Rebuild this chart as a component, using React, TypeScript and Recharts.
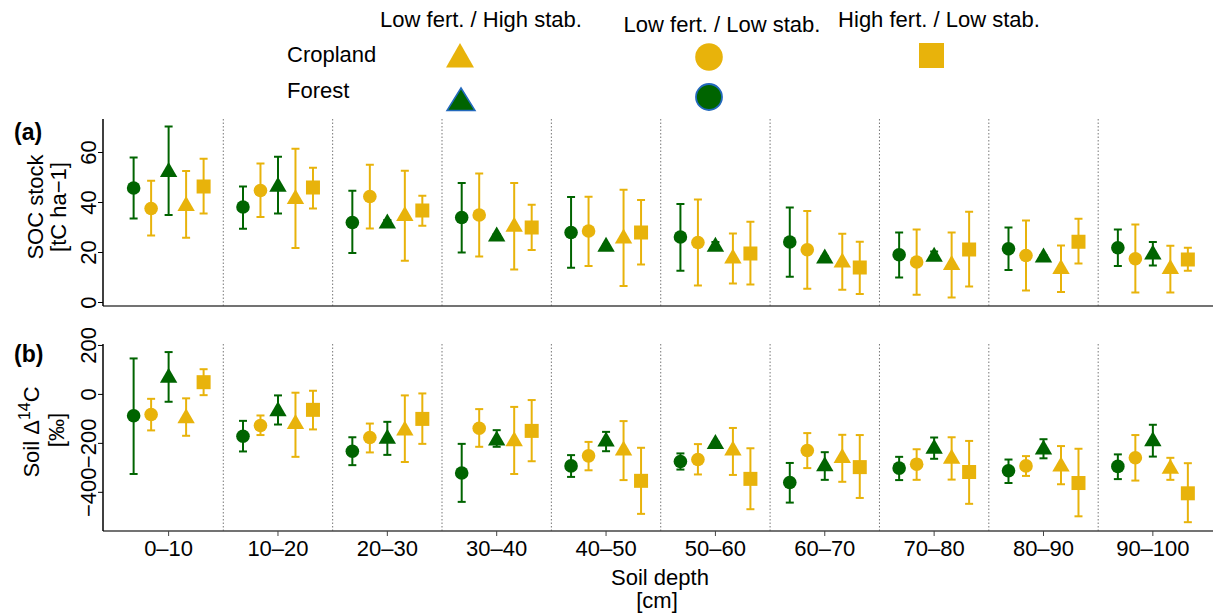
import React from 'react';
import { ScatterChart, Scatter, XAxis, YAxis, ErrorBar, ReferenceLine } from 'recharts';

const depths = ['0–10', '10–20', '20–30', '30–40', '40–50', '50–60', '60–70', '70–80', '80–90', '90–100'];

// [mean, lower, upper]  SOC stock, tC ha-1
const socForestLowLow = [[45.8, 33.6, 58], [38.2, 29.5, 46.4], [32, 19.8, 44.7], [34, 20, 47.8], [28, 13.9, 42.2], [26.2, 12.7, 39.4], [24.2, 10.3, 38], [19.1, 10, 28], [21.5, 13, 30], [21.9, 14.6, 29.2]];
const socCropLowLow = [[37.6, 26.8, 48.7], [44.8, 34.2, 55.6], [42.4, 29.6, 55.1], [35, 18.4, 51.6], [28.6, 14.6, 42.3], [24, 6.8, 41.2], [21.1, 5.5, 36.6], [16.2, 3.1, 29.2], [18.8, 4.8, 32.8], [17.5, 4, 31.2]];
const socForestLowHigh = [[53, 35, 70.4], [47.1, 35.6, 58.3], [32.4, 31.8, 33], [27.2, 27.2, 27.2], [23.1, 23.1, 23.1], [23.1, 22.2, 24.2], [18.4, 18.4, 18.4], [19.1, 17.8, 20.4], [18.8, 18.8, 18.8], [20, 14.8, 24.2]];
const socCropLowHigh = [[39.4, 25.9, 52.6], [42.2, 21.8, 61.5], [35.4, 16.7, 52.7], [31.1, 13.2, 47.8], [26.4, 6.6, 45.1], [18.4, 7.6, 27.6], [16.8, 5.1, 27.5], [15.8, 2, 28], [14.2, 4.2, 22.8], [14.2, 4, 22.7]];
const socCropHighLow = [[46.4, 35.6, 57.5], [46, 37.6, 53.9], [36.8, 30.7, 42.7], [30, 21, 39.1], [28, 15.2, 41], [19.6, 7.2, 32.3], [14, 3.4, 24.3], [21.2, 6.4, 36.3], [24.3, 15.6, 33.5], [17.2, 12.7, 21.9]];

// [mean, lower, upper]  soil Δ14C, ‰
const c14ForestLowLow = [[-87, -325, 147], [-171, -233, -108], [-232, -289, -175], [-321, -439, -202], [-292, -337, -248], [-274, -307, -241], [-360, -442, -280], [-301, -350, -255], [-312, -362, -266], [-294, -346, -245]];
const c14CropLowLow = [[-82, -147, -18], [-127, -166, -86], [-176, -237, -119], [-138, -214, -60], [-251, -310, -194], [-266, -327, -203], [-229, -301, -158], [-285, -349, -224], [-292, -333, -252], [-259, -352, -166]];
const c14ForestLowHigh = [[76, -30, 173], [-61, -123, -4], [-173, -247, -112], [-180, -214, -146], [-184, -232, -153], [-194, -194, -194], [-285, -349, -236], [-214, -263, -176], [-217, -261, -183], [-183, -254, -124]];
const c14CropLowHigh = [[-89, -169, -16], [-113, -255, 7], [-139, -276, -4], [-183, -325, -51], [-221, -350, -109], [-221, -329, -137], [-252, -357, -165], [-255, -348, -175], [-286, -367, -211], [-296, -349, -259]];
const c14CropHighLow = [[50, -3, 103], [-63, -143, 15], [-100, -202, 4], [-149, -273, -23], [-353, -488, -218], [-345, -469, -220], [-297, -423, -166], [-317, -447, -190], [-362, -498, -222], [-404, -522, -281]];

const GREEN = '#006400';
const YELLOW = '#E8B30B';
const BLUE = '#2369BD';
const FONT = '"Liberation Sans", Arial, sans-serif';

const toPoints = (vals: number[][], offset: number) =>
  vals.map((v, i) => ({ x: i + offset, y: v[0], err: [v[0] - v[1], v[2] - v[0]] }));

const Circle = (color: string) => (p: any) => <circle cx={p.cx} cy={p.cy} r={6.8} fill={color} />;
const Triangle = (color: string) => (p: any) => (
  <polygon points={`${p.cx},${p.cy - 8} ${p.cx + 8.7},${p.cy + 7} ${p.cx - 8.7},${p.cy + 7}`} fill={color} />
);
const Square = (color: string) => (p: any) => <rect x={p.cx - 7} y={p.cy - 7} width={14} height={14} fill={color} />;

const seriesDefs = (sets: number[][][]) => [
  { data: toPoints(sets[0], -0.32), color: GREEN, shape: Circle(GREEN) },
  { data: toPoints(sets[1], -0.16), color: YELLOW, shape: Circle(YELLOW) },
  { data: toPoints(sets[2], 0), color: GREEN, shape: Triangle(GREEN) },
  { data: toPoints(sets[3], 0.16), color: YELLOW, shape: Triangle(YELLOW) },
  { data: toPoints(sets[4], 0.32), color: YELLOW, shape: Square(YELLOW) },
];

const fmtNum = (v: number) => (v < 0 ? '−' + Math.abs(v) : String(v));

const RotTick = (props: any) => {
  const { x, y, payload } = props;
  return (
    <text x={x} y={y} transform={`rotate(-90 ${x} ${y})`} textAnchor="middle" fontSize={22} fontFamily={FONT} fill="#000">
      {fmtNum(payload.value)}
    </text>
  );
};

const DepthTick = (props: any) => {
  const { x, y, payload } = props;
  return (
    <text x={x} y={y} dy={18} textAnchor="middle" fontSize={22} fontFamily={FONT} fill="#000">
      {depths[payload.value]}
    </text>
  );
};

const dividers = [0.5, 1.5, 2.5, 3.5, 4.5, 5.5, 6.5, 7.5, 8.5];
const catTicks = depths.map((_, i) => i);

function Panel({ sets, domain, ticks, height, top, xHeight, showLabels }: any) {
  return (
    <ScatterChart width={1213} height={height} margin={{ top, right: 0, bottom: 0, left: 0 }}>
      <XAxis
        type="number"
        dataKey="x"
        domain={[-0.6, 9.55]}
        ticks={catTicks}
        allowDataOverflow
        height={xHeight}
        tickSize={5}
        tickMargin={2}
        axisLine={{ stroke: '#444', strokeWidth: 1.5 }}
        tickLine={{ stroke: '#444' }}
        tick={showLabels ? <DepthTick /> : false}
        interval={0}
      />
      <YAxis
        type="number"
        dataKey="y"
        domain={domain}
        ticks={ticks}
        allowDataOverflow
        width={103}
        tickSize={5}
        tickMargin={2}
        axisLine={{ stroke: '#000', strokeWidth: 1.5 }}
        tickLine={{ stroke: '#000' }}
        tick={<RotTick />}
      />
      {dividers.map((d) => (
        <ReferenceLine key={d} x={d} stroke="#777" strokeDasharray="1.5 2" />
      ))}
      {seriesDefs(sets).map((s, i) => (
        <Scatter key={i} data={s.data} shape={s.shape} isAnimationActive={false}>
          <ErrorBar dataKey="err" direction="y" width={4} strokeWidth={2} stroke={s.color} isAnimationActive={false} />
        </Scatter>
      ))}
    </ScatterChart>
  );
}

export default function App() {
  return (
    <div style={{ position: 'absolute', left: 0, top: 0, width: 1213, height: 615, background: '#fff', overflow: 'hidden' }}>
      <div style={{ position: 'absolute', left: 0, top: 0 }}>
        <Panel
          sets={[socForestLowLow, socCropLowLow, socForestLowHigh, socCropLowHigh, socCropHighLow]}
          domain={[-1.4, 73.4]}
          ticks={[0, 20, 40, 60]}
          height={320}
          top={119}
          xHeight={14}
          showLabels={false}
        />
      </div>
      <div style={{ position: 'absolute', left: 0, top: 320 }}>
        <Panel
          sets={[c14ForestLowLow, c14CropLowLow, c14ForestLowHigh, c14CropLowHigh, c14CropHighLow]}
          domain={[-558, 206]}
          ticks={[-400, -200, 0, 200]}
          height={295}
          top={24}
          xHeight={84}
          showLabels={true}
        />
      </div>
      <svg width={1213} height={615} style={{ position: 'absolute', left: 0, top: 0, pointerEvents: 'none' }} fontFamily={FONT}>
        {/* legend */}
        <text x={481} y={27} fontSize={22} textAnchor="middle">Low fert. / High stab.</text>
        <text x={722} y={31.5} fontSize={22} textAnchor="middle">Low fert. / Low stab.</text>
        <text x={939} y={27} fontSize={22} textAnchor="middle">High fert. / Low stab.</text>
        <text x={287} y={62} fontSize={22}>Cropland</text>
        <text x={287} y={98} fontSize={22}>Forest</text>
        <polygon points="460,43 474,67.5 446,67.5" fill={YELLOW} />
        <circle cx={709} cy={57} r={13.8} fill={YELLOW} />
        <rect x={919} y={43} width={25} height={25} fill={YELLOW} />
        <polygon points="461,88 475,110.5 447,110.5" fill={GREEN} stroke={BLUE} strokeWidth={1.5} />
        <circle cx={709} cy={97} r={13} fill={GREEN} stroke={BLUE} strokeWidth={1.8} />
        {/* panel labels */}
        <text x={14} y={140} fontSize={23} fontWeight="bold">(a)</text>
        <text x={14} y={362} fontSize={23} fontWeight="bold">(b)</text>
        {/* y titles */}
        <text x={43} y={207} fontSize={22} textAnchor="middle" transform="rotate(-90 43 207)">SOC stock</text>
        <text x={66} y={207} fontSize={22} textAnchor="middle" transform="rotate(-90 66 207)">[tC ha−1]</text>
        <text x={39} y={432} fontSize={22} textAnchor="middle" transform="rotate(-90 39 432)">
          Soil Δ<tspan fontSize={16} dy={-9}>14</tspan><tspan dy={9}>C</tspan>
        </text>
        <text x={64} y={430} fontSize={22} textAnchor="middle" transform="rotate(-90 64 430)">[‰]</text>
        {/* x title */}
        <text x={660} y={585} fontSize={22} textAnchor="middle">Soil depth</text>
        <text x={657} y={608} fontSize={22} textAnchor="middle">[cm]</text>
      </svg>
    </div>
  );
}
